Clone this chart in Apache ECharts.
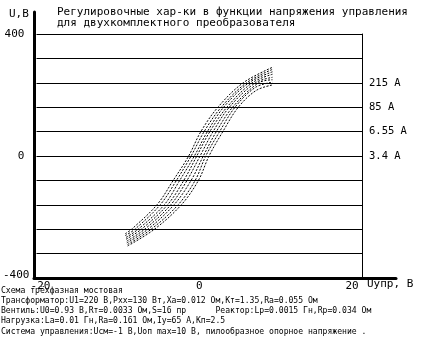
<!DOCTYPE html>
<html><head><meta charset="utf-8">
<script src="https://cdn.jsdelivr.net/npm/echarts@6/dist/echarts.min.js"></script>
<style>html,body{margin:0;padding:0;background:#fff}#c{width:423px;height:351px}</style>
</head><body><div id="c"></div>
<script>
// ---- data ----
const xTickLabels = [-20, 0, 20];
const yTickLabels = [400, 0, -400];
const currentLevels = [240, 160, 80, 0];
const currentLabels = ['215 A', '85 A', '6.55 A', '3.4 A'];
// curves: [Uупр, U]
const curve1 = [[-9.1,-255],[-8.3,-240],[-5.2,-160],[-3.2,-80],[-1.3,0],[0.2,80],[2.3,160],[5.4,240],[9.1,292]];
const curve2 = [[-9.1,-261],[-7.9,-240],[-4.8,-160],[-2.8,-80],[-1.0,0],[0.6,80],[2.7,160],[5.8,240],[9.0,284]];
const curve3 = [[-9.0,-267],[-7.5,-240],[-4.3,-160],[-2.4,-80],[-0.6,0],[1.0,80],[3.0,160],[6.1,240],[9.0,276]];
const curve4 = [[-9.0,-273],[-7.1,-240],[-3.9,-160],[-1.9,-80],[-0.3,0],[1.3,80],[3.4,160],[6.5,240],[9.0,268]];
const curve5 = [[-8.9,-279],[-6.7,-240],[-3.5,-160],[-1.5,-80],[0.1,0],[1.7,80],[3.7,160],[6.9,240],[9.0,258]];
const curve6 = [[-8.9,-285],[-6.3,-240],[-3.1,-160],[-1.0,-80],[0.5,0],[2.1,80],[4.1,160],[7.3,240],[9.0,250]];
const curve7 = [[-8.8,-290],[-5.9,-240],[-2.6,-160],[-0.5,-80],[0.8,0],[2.5,80],[4.4,160],[6.9,225],[9.0,242]];
const curve8 = [[-8.8,-295],[-5.5,-240],[-2.2,-160],[-0.1,-80],[1.2,0],[2.9,80],[4.8,160],[7.0,215],[9.0,233]];
const curves = [curve1, curve2, curve3, curve4, curve5, curve6, curve7, curve8];

const titleText = 'Регулировочные хар-ки в функции напряжения управления\nдля двухкомплектного преобразователя';
const notes = [
  'Схема трёхфазная мостовая',
  'Трансформатор:U1=220 В,Pхх=130 Вт,Xа=0.012 Ом,Кт=1.35,Rа=0.055 Ом',
  'Вентиль:U0=0.93 В,Rт=0.0033 Ом,S=16 пр      Реактор:Lр=0.0015 Гн,Rр=0.034 Ом',
  'Нагрузка:Lа=0.01 Гн,Rа=0.161 Ом,Iу=65 А,Kп=2.5',
  'Система управления:Uсм=-1 В,Uоп max=10 В, пилообразное опорное напряжение .'
];

const MONO = 'DejaVu Sans Mono';
const chart = echarts.init(document.getElementById('c'), null, {renderer: 'canvas'});
const txt = (size, extra) => Object.assign({fontFamily: MONO, fontSize: size, fontWeight: 'normal', color: '#000'}, extra || {});

chart.setOption({
  animation: false,
  backgroundColor: '#fff',
  title: [
    {text: titleText, left: 57, top: 6, padding: 0, textStyle: txt(11, {lineHeight: 11.5})},
    {text: 'U,В', left: 9, top: 9, padding: 0, textStyle: txt(11)},
    {text: 'Uупр, В', left: 367, top: 279, padding: 0, textStyle: txt(11)},
    {text: notes.join('\n'), left: 1, top: 285.5, padding: 0, textStyle: txt(8.1, {lineHeight: 10.2})}
  ],
  grid: [
    {left: 34, top: 34, width: 328, height: 244, show: false},
    {left: 34, top: 12, width: 362, height: 266, show: false}
  ],
  xAxis: [
    {type: 'value', gridIndex: 0, min: -20, max: 20, interval: 20,
      axisLine: {show: false}, axisTick: {show: false}, splitLine: {show: false},
      axisLabel: {margin: 3, fontFamily: MONO, fontSize: 11, color: '#000',
        formatter: v => {
          if (xTickLabels.indexOf(v) < 0) return '';
          if (v === -20) return '{l|' + v + '}';
          if (v === 20) return '{r|' + v + '}';
          return '{c|' + v + '}';
        },
        rich: {
          l: {fontFamily: MONO, fontSize: 11, color: '#000', padding: [0, 0, 0, 8]},
          r: {fontFamily: MONO, fontSize: 11, color: '#000', padding: [0, 20, 0, 0]},
          c: {fontFamily: MONO, fontSize: 11, color: '#000'}
        }}},
    {type: 'value', gridIndex: 1, min: 0, max: 1,
      axisLine: {show: true, onZero: false, lineStyle: {color: '#000', width: 3}},
      axisTick: {show: false}, splitLine: {show: false}, axisLabel: {show: false}}
  ],
  yAxis: [
    {type: 'value', gridIndex: 0, min: -400, max: 400, interval: 80,
      axisLine: {show: false}, axisTick: {show: false},
      splitLine: {show: true, lineStyle: {color: '#000', width: 1}},
      axisLabel: {margin: 7, fontFamily: MONO, fontSize: 11, color: '#000',
        formatter: v => {
          if (yTickLabels.indexOf(v) < 0) return '';
          if (v === -400) return '{n|' + v + '}';
          return '{p|' + v + '}';
        },
        rich: {
          n: {fontFamily: MONO, fontSize: 11, color: '#000', padding: [0, 0, 6, 0]},
          p: {fontFamily: MONO, fontSize: 11, color: '#000', padding: [0, 5, 0, 0]}
        }}},
    {type: 'value', gridIndex: 0, position: 'right', min: -400, max: 400, interval: 80,
      axisLine: {show: true, onZero: false, lineStyle: {color: '#000', width: 1}},
      axisTick: {show: false}, splitLine: {show: false},
      axisLabel: {margin: 7, fontFamily: MONO, fontSize: 10.5, color: '#000',
        formatter: v => {
          const i = currentLevels.indexOf(v);
          return i < 0 ? '' : currentLabels[i];
        }}},
    {type: 'value', gridIndex: 1, min: 0, max: 1,
      axisLine: {show: true, onZero: false, lineStyle: {color: '#000', width: 3}},
      axisTick: {show: false}, splitLine: {show: false}, axisLabel: {show: false}}
  ],
  series: curves.map(c => ({
    type: 'line', xAxisIndex: 0, yAxisIndex: 0, data: c,
    smooth: 0.35, symbol: 'none', silent: true,
    lineStyle: {color: '#000', width: 1, type: [2, 1.5]}
  }))
});
</script>
</body></html>
